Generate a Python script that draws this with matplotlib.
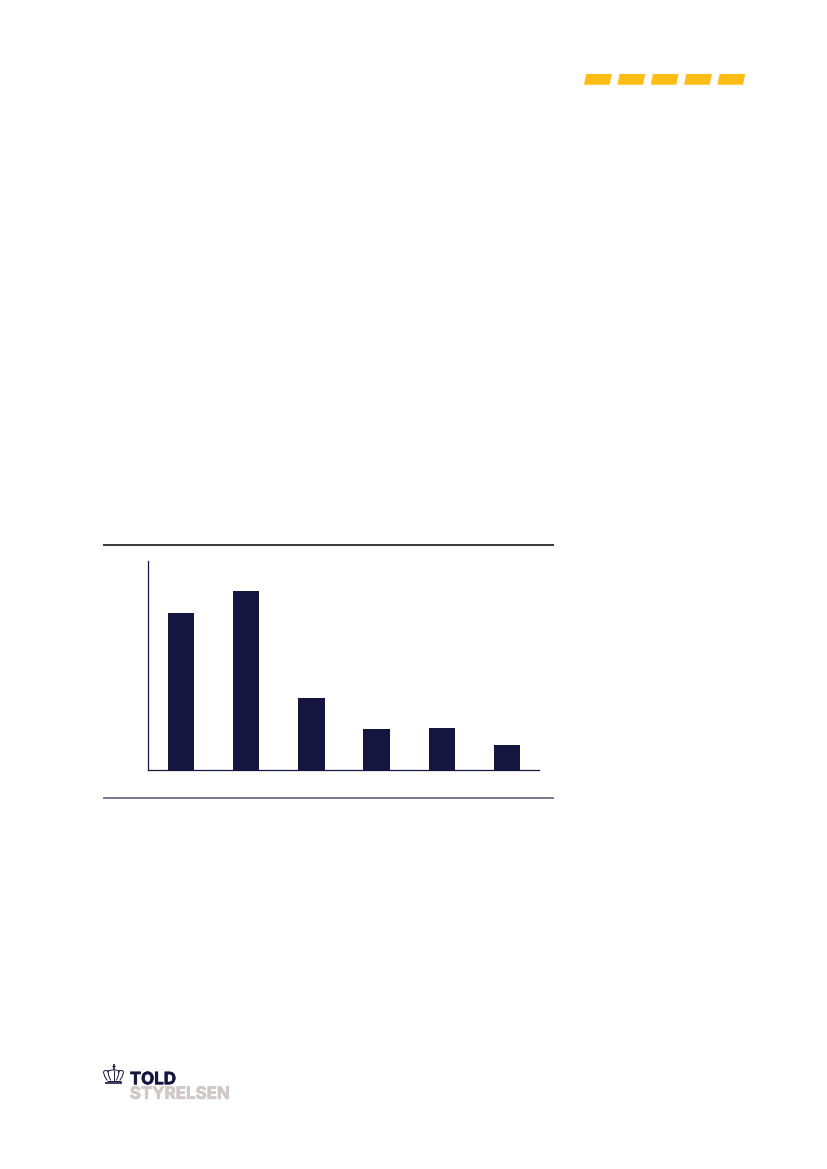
# Bar chart page with header dashes, rules and logo
import numpy as np
import matplotlib
matplotlib.use('Agg')
import matplotlib.pyplot as plt
from matplotlib.patches import Polygon, Arc
import matplotlib.patheffects as pe

# values (no labels in the reference, so pixel-ish units)
categories = ['A', 'B', 'C', 'D', 'E', 'F']
values = [157.5, 179.5, 72.5, 41.5, 42, 25.5]

NAVY = '#15163f'
YELLOW = '#ffbc14'
LOGO_GREY = '#d0c8c6'
W, H = 827, 1169

fig = plt.figure(figsize=(W / 100, H / 100), dpi=100, facecolor='white')

# overlay axes in page pixels, for the page furniture
page = fig.add_axes([0, 0, 1, 1])
page.set_xlim(0, W)
page.set_ylim(H, 0)
page.axis('off')

# yellow dashes top right
for i in range(5):
    x0 = 584 + i * 33.35
    page.add_patch(Polygon([(x0 + 2.2, 74), (x0 + 27.8, 74), (x0 + 25.6, 84.7), (x0, 84.7)],
                           closed=True, fc=YELLOW, ec='none'))

# rules above and below the chart
page.plot([103, 553.5], [545.2, 545.2], color='#000000', lw=1.1, solid_capstyle='butt')
page.plot([103, 553.5], [798.2, 798.2], color='#6d6a8c', lw=1.3, solid_capstyle='butt')

# chart
ax = fig.add_axes([148.4 / W, 1 - 770.2 / H, (538.8 - 148.4) / W, (770.2 - 561) / H])
pos = np.arange(len(values))
ax.bar(pos, values, width=0.404, color=NAVY, edgecolor='none')
ax.set_xlim(-0.503, 5.489)
ax.set_ylim(0, 209.2)
ax.set_xticks([])
ax.set_yticks([])
ax.patch.set_alpha(0)
for s in ['top', 'right']:
    ax.spines[s].set_visible(False)
for s in ['left', 'bottom']:
    ax.spines[s].set_color(NAVY)
    ax.spines[s].set_linewidth(0.9)

# logo: crown, three lobes on a base band
page.plot([105, 122], [1083.3, 1083.3], color=NAVY, lw=1.2, solid_capstyle='butt')
page.plot([106.5, 120.5], [1080.5, 1080.5], color=NAVY, lw=0.7, solid_capstyle='butt')
page.plot([103.5, 105, 107], [1072.5, 1077, 1080], color=NAVY, lw=0.7)
page.plot([123.5, 122, 120], [1072.5, 1077, 1080], color=NAVY, lw=0.7)
page.plot([108, 108.5, 110.5], [1070.5, 1075, 1080], color=NAVY, lw=0.7)
page.plot([119, 118.5, 116.5], [1070.5, 1075, 1080], color=NAVY, lw=0.7)
page.plot([113.5, 113.5], [1070.5, 1080], color=NAVY, lw=0.7)
page.add_patch(Arc((105.8, 1072.5), 4.6, 4, theta1=180, theta2=360, color=NAVY, lw=0.7))
page.add_patch(Arc((121.2, 1072.5), 4.6, 4, theta1=180, theta2=360, color=NAVY, lw=0.7))
page.add_patch(Arc((113.5, 1071.5), 11, 3, theta1=180, theta2=360, color=NAVY, lw=0.7))
page.plot([113.5, 113.5], [1063.5, 1070], color=NAVY, lw=1.1, solid_capstyle='butt')
page.plot([111.8, 115.2], [1065.5, 1065.5], color=NAVY, lw=0.9, solid_capstyle='butt')

# logo: wordmark
stroke = 0.5
page.text(129.8, 1084.2, 'TOLD', family='Inter', weight='bold', fontsize=12.2, color=NAVY,
          ha='left', va='baseline',
          path_effects=[pe.withStroke(linewidth=stroke, foreground=NAVY)])
page.text(129.8, 1098.8, 'STYRELSEN', family='Inter', weight='bold', fontsize=12.2, color=LOGO_GREY,
          ha='left', va='baseline',
          path_effects=[pe.withStroke(linewidth=stroke, foreground=LOGO_GREY)])

fig.savefig('out.png', dpi=100, facecolor='white')
